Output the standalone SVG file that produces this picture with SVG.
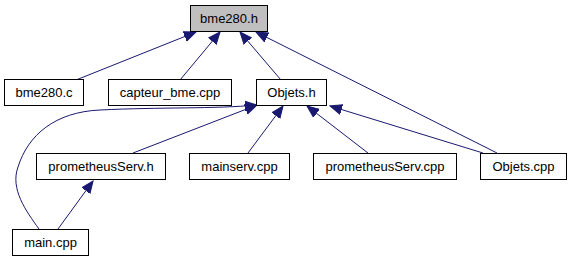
<svg xmlns="http://www.w3.org/2000/svg" width="571" height="261" viewBox="0 0 571 261">
  <style>
    .node rect { fill: #ffffff; stroke: #000000; stroke-width: 1; }
    .node.root rect { fill: #bfbfbf; }
    .node text { font-family: "Liberation Sans", Arial, sans-serif; font-size: 13px; text-anchor: middle; fill: #000000; }
    .edge { fill: none; stroke: #191970; stroke-width: 1; marker-end: url(#arrow); }
  </style>
  <defs>
    <marker id="arrow" markerUnits="userSpaceOnUse" markerWidth="14" markerHeight="12" refX="12" refY="5" orient="auto" viewBox="0 0 14 10">
      <path d="M0,0 L12,5 L0,10 z" fill="#191970" stroke="#191970" stroke-width="1"/>
    </marker>
  </defs>
  <rect width="571" height="261" fill="#ffffff"/>

  <g id="connectors">
    <path class="edge" d="M76,80 L196,32"/>
    <path class="edge" d="M180,80 L220,32"/>
    <path class="edge" d="M281,80 L240,32"/>
    <path class="edge" d="M497,153 L256,32"/>
    <path class="edge" d="M39,229 C26,211 10,189 18,167 C28,135 55,112 100,110 C160,107 215,109 257,105"/>
    <path class="edge" d="M133,153 L257,105"/>
    <path class="edge" d="M248,153 L283,106"/>
    <path class="edge" d="M368,153 L307,106"/>
    <path class="edge" d="M483,153 L330,106"/>
    <path class="edge" d="M58,229 L93,181"/>
  </g>

  <g id="node-bme280-h" class="node root">
    <rect x="190.5" y="5.5" width="77" height="26"/>
    <text x="229" y="23">bme280.h</text>
  </g>
  <g id="node-bme280-c" class="node">
    <rect x="4.5" y="79.5" width="79" height="26"/>
    <text x="44" y="97">bme280.c</text>
  </g>
  <g id="node-capteur-bme-cpp" class="node">
    <rect x="108.5" y="79.5" width="123" height="26"/>
    <text x="170" y="97">capteur_bme.cpp</text>
  </g>
  <g id="node-objets-h" class="node">
    <rect x="256.5" y="79.5" width="70" height="26"/>
    <text x="291.5" y="97">Objets.h</text>
  </g>
  <g id="node-prometheusserv-h" class="node">
    <rect x="36.5" y="153.5" width="129" height="26"/>
    <text x="101" y="171">prometheusServ.h</text>
  </g>
  <g id="node-mainserv-cpp" class="node">
    <rect x="189.5" y="153.5" width="100" height="26"/>
    <text x="239.5" y="171">mainserv.cpp</text>
  </g>
  <g id="node-prometheusserv-cpp" class="node">
    <rect x="313.5" y="153.5" width="143" height="26"/>
    <text x="385" y="171">prometheusServ.cpp</text>
  </g>
  <g id="node-objets-cpp" class="node">
    <rect x="480.5" y="153.5" width="86" height="26"/>
    <text x="523.5" y="171">Objets.cpp</text>
  </g>
  <g id="node-main-cpp" class="node">
    <rect x="12.5" y="229.5" width="76" height="26"/>
    <text x="50.5" y="247">main.cpp</text>
  </g>
</svg>
